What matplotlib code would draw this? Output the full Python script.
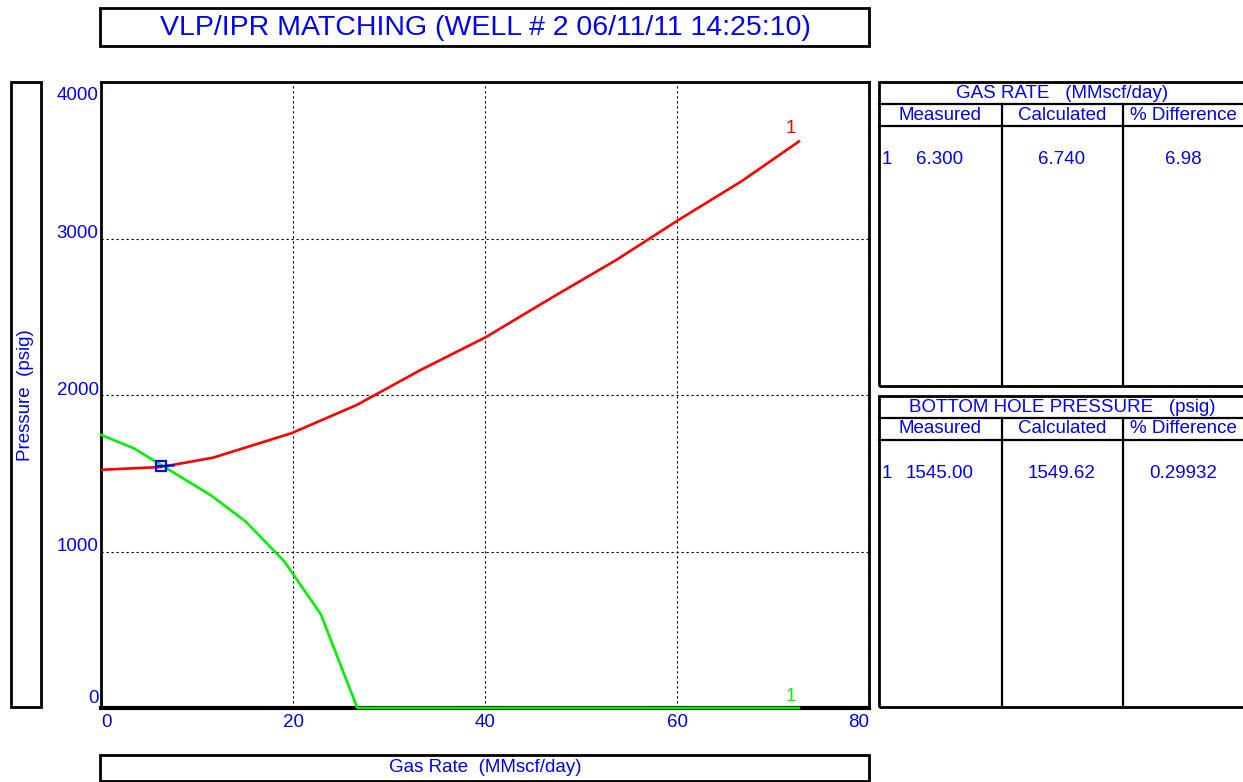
import matplotlib

matplotlib.use("Agg")
import matplotlib.pyplot as plt
from matplotlib.patches import Rectangle
from matplotlib import transforms

plt.rcParams["font.family"] = ["Liberation Sans", "DejaVu Sans"]

W, H = 1243, 782
BLUE = "#0000ff"
RED = "#ff0000"
GREEN = "#00ee00"
FS = 13.5

title = "VLP/IPR MATCHING (WELL # 2 06/11/11 14:25:10)"
x_label = "Gas Rate  (MMscf/day)"
y_label = "Pressure  (psig)"
x_ticks = [0, 20, 40, 60, 80]
y_ticks = [0, 1000, 2000, 3000, 4000]

# VLP (tubing) curve, red
vlp_rate = [0, 6.3, 11.7, 19.8, 26.6, 33.3, 40.1, 46.9, 53.6, 60.2, 66.7, 72.7]
vlp_press = [1522, 1540, 1600, 1755, 1935, 2160, 2370, 2620, 2860, 3120, 3365, 3620]

# IPR curve, green
ipr_rate = [0, 3.4, 11.5, 15.1, 19.1, 22.9, 26.7, 72.7]
ipr_press = [1745, 1660, 1357, 1190, 936, 599, 0, 0]

meas_rate, calc_rate, diff_rate = "6.300", "6.740", "6.98"
meas_bhp, calc_bhp, diff_bhp = "1545.00", "1549.62", "0.29932"
point_rate, point_press = 6.3, 1545.0


def rect(x0, y0, x1, y1):
    return [x0 / W, 1 - y1 / H, (x1 - x0) / W, (y1 - y0) / H]


def fx(x):
    return x / W


def fy(y):
    return 1 - y / H


def box(fig, x0, y0, x1, y1, lw=2.0):
    fig.patches.append(Rectangle((fx(x0), fy(y1)), (x1 - x0) / W, (y1 - y0) / H,
                                 transform=fig.transFigure, fill=False,
                                 edgecolor="black", lw=lw))


def hline(fig, x0, x1, y, lw=1.6):
    fig.add_artist(plt.Line2D([fx(x0), fx(x1)], [fy(y), fy(y)],
                              transform=fig.transFigure, color="black", lw=lw))


def vline(fig, x, y0, y1, lw=1.6):
    fig.add_artist(plt.Line2D([fx(x), fx(x)], [fy(y0), fy(y1)],
                              transform=fig.transFigure, color="black", lw=lw))


fig = plt.figure(figsize=(W / 100, H / 100), dpi=100)

# title / label boxes
box(fig, 100, 8, 869, 46)
fig.text(fx(485), fy(28), title, color=BLUE, fontsize=20.5, ha="center", va="center")
box(fig, 11, 82, 41, 707)
fig.text(fx(25), fy(395), y_label, color=BLUE, fontsize=FS, rotation=90,
         ha="center", va="center")
box(fig, 100, 755, 869, 781)
fig.text(fx(485), fy(768), x_label, color=BLUE, fontsize=FS, ha="center", va="center")

# main plot
ax = fig.add_axes(rect(101, 82, 869, 708))
ax.set_xlim(0, 80)
ax.set_ylim(0, 4000)
ax.set_xticks(x_ticks)
ax.set_yticks(y_ticks)
ax.tick_params(length=0, labelbottom=False, labelleft=False)
ax.grid(True, color="black", linestyle=(0, (2, 2.5)), lw=0.8)
for s in ax.spines.values():
    s.set_linewidth(2.0)
ax.spines["bottom"].set_linewidth(3.0)

ax.plot(vlp_rate, vlp_press, color=RED, lw=1.9, zorder=3)
ax.plot(ipr_rate, ipr_press, color=GREEN, lw=1.9, zorder=3, clip_on=False)
ax.plot([point_rate], [point_press], marker="s", ms=7, mfc="none", mec=BLUE,
        mew=1.6, zorder=4)
ax.plot([point_rate - 0.5, point_rate + 1.3], [point_press, point_press + 5],
        color=BLUE, lw=1.6, zorder=4)
ax.text(vlp_rate[-1] - 0.3, vlp_press[-1] + 30, "1", color=RED, fontsize=FS,
        ha="right", va="bottom")
ax.text(ipr_rate[-1] - 0.3, ipr_press[-1] + 20, "1", color=GREEN, fontsize=FS,
        ha="right", va="bottom")

ylab_tr = transforms.blended_transform_factory(ax.transAxes, ax.transData)
for v in y_ticks:
    va = "top" if v == y_ticks[-1] else "bottom"
    off = -35 if v == y_ticks[-1] else (5 if v == 0 else -25)
    ax.text(-0.003, v + off, str(v), transform=ylab_tr, color=BLUE, fontsize=FS,
            ha="right", va=va)
xlab_tr = transforms.blended_transform_factory(ax.transData, ax.transAxes)
for v in x_ticks:
    ha = "left" if v == x_ticks[0] else ("right" if v == x_ticks[-1] else "center")
    ax.text(v, -0.01, str(v), transform=xlab_tr, color=BLUE, fontsize=FS,
            ha=ha, va="top")


def table(top, bottom, header, meas, calc, diff):
    box(fig, 879, top, 1245, bottom)
    hline(fig, 879, 1243, top + 22)
    hline(fig, 879, 1243, top + 44)
    vline(fig, 1002, top + 22, bottom)
    vline(fig, 1123, top + 22, bottom)
    fig.text(fx(1062), fy(top + 11), header, color=BLUE, fontsize=FS,
             ha="center", va="center")
    for x, t in [(940, "Measured"), (1062, "Calculated"), (1183, "% Difference")]:
        fig.text(fx(x), fy(top + 33), t, color=BLUE, fontsize=FS,
                 ha="center", va="center")
    fig.text(fx(882), fy(top + 77), "1", color=BLUE, fontsize=FS, ha="left", va="center")
    fig.text(fx(940), fy(top + 77), meas, color=BLUE, fontsize=FS, ha="center", va="center")
    fig.text(fx(1062), fy(top + 77), calc, color=BLUE, fontsize=FS, ha="center", va="center")
    fig.text(fx(1183), fy(top + 77), diff, color=BLUE, fontsize=FS, ha="center", va="center")


table(82, 386, "GAS RATE   (MMscf/day)", meas_rate, calc_rate, diff_rate)
table(396, 707, "BOTTOM HOLE PRESSURE   (psig)", meas_bhp, calc_bhp, diff_bhp)

fig.savefig("out.png", dpi=100)
